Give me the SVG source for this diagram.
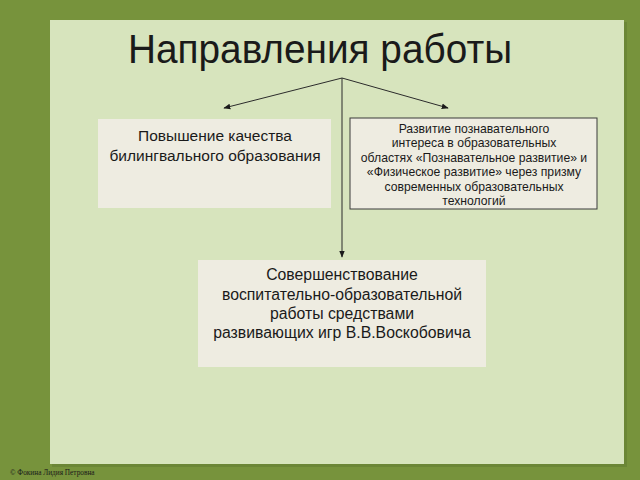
<svg xmlns="http://www.w3.org/2000/svg" width="640" height="480" viewBox="0 0 640 480">
<defs>
<style>
.box{fill:#eeece1;}
.t{font-family:"Liberation Sans",Arial,sans-serif;fill:#1a1a1a;text-anchor:middle;}
.c{stroke:#2b2b2b;stroke-width:1;fill:none;}
</style>
<marker id="ah" viewBox="0 0 10 10" refX="9" refY="5" markerWidth="7" markerHeight="7" orient="auto" markerUnits="userSpaceOnUse">
<path d="M0,1 L10,5 L0,9 z" fill="#1a1a1a"/>
</marker>
</defs>
<rect x="0" y="0" width="640" height="480" fill="#77933c"/>
<rect x="52" y="22" width="575" height="445" fill="#6b8636"/>
<rect x="50" y="20" width="574" height="444" fill="#d7e4bd"/>
<g id="title">
<text class="t" x="320" y="63" font-size="40" textLength="384" lengthAdjust="spacingAndGlyphs">Направления работы</text>
</g>
<g id="connectors">
<line class="c" x1="342" y1="78" x2="224" y2="108" marker-end="url(#ah)"/>
<line class="c" x1="342" y1="78" x2="448" y2="108" marker-end="url(#ah)"/>
<line class="c" x1="342" y1="78" x2="342" y2="257" marker-end="url(#ah)"/>
</g>
<g id="node1">
<rect class="box" x="98" y="119" width="233" height="89"/>
<text class="t" x="215" y="141" font-size="15.5">Повышение качества</text>
<text class="t" x="215" y="161" font-size="15.5">билингвального образования</text>
</g>
<g id="node2">
<rect class="box" x="350" y="118" width="247" height="91" stroke="#3a3a3a" stroke-width="1"/>
<text class="t" x="474" y="133" font-size="12.2">Развитие познавательного</text>
<text class="t" x="474" y="147" font-size="12.2">интереса  в образовательных</text>
<text class="t" x="474" y="162" font-size="12.2">областях «Познавательное развитие» и</text>
<text class="t" x="474" y="176" font-size="12.2">«Физическое развитие» через призму</text>
<text class="t" x="474" y="191" font-size="12.2">современных образовательных</text>
<text class="t" x="474" y="205" font-size="12.2">технологий</text>
</g>
<g id="node3">
<rect class="box" x="198" y="260" width="288" height="107"/>
<text class="t" x="342" y="280" font-size="15.8">Совершенствование</text>
<text class="t" x="342" y="300" font-size="15.8">воспитательно-образовательной</text>
<text class="t" x="342" y="319" font-size="15.8">работы средствами</text>
<text class="t" x="342" y="338" font-size="15.8">развивающих игр В.В.Воскобовича</text>
</g>
<text x="10" y="475" font-family="'Liberation Serif',serif" font-size="7.3" fill="#1a1a1a">© Фокина Лидия Петровна</text>
</svg>
